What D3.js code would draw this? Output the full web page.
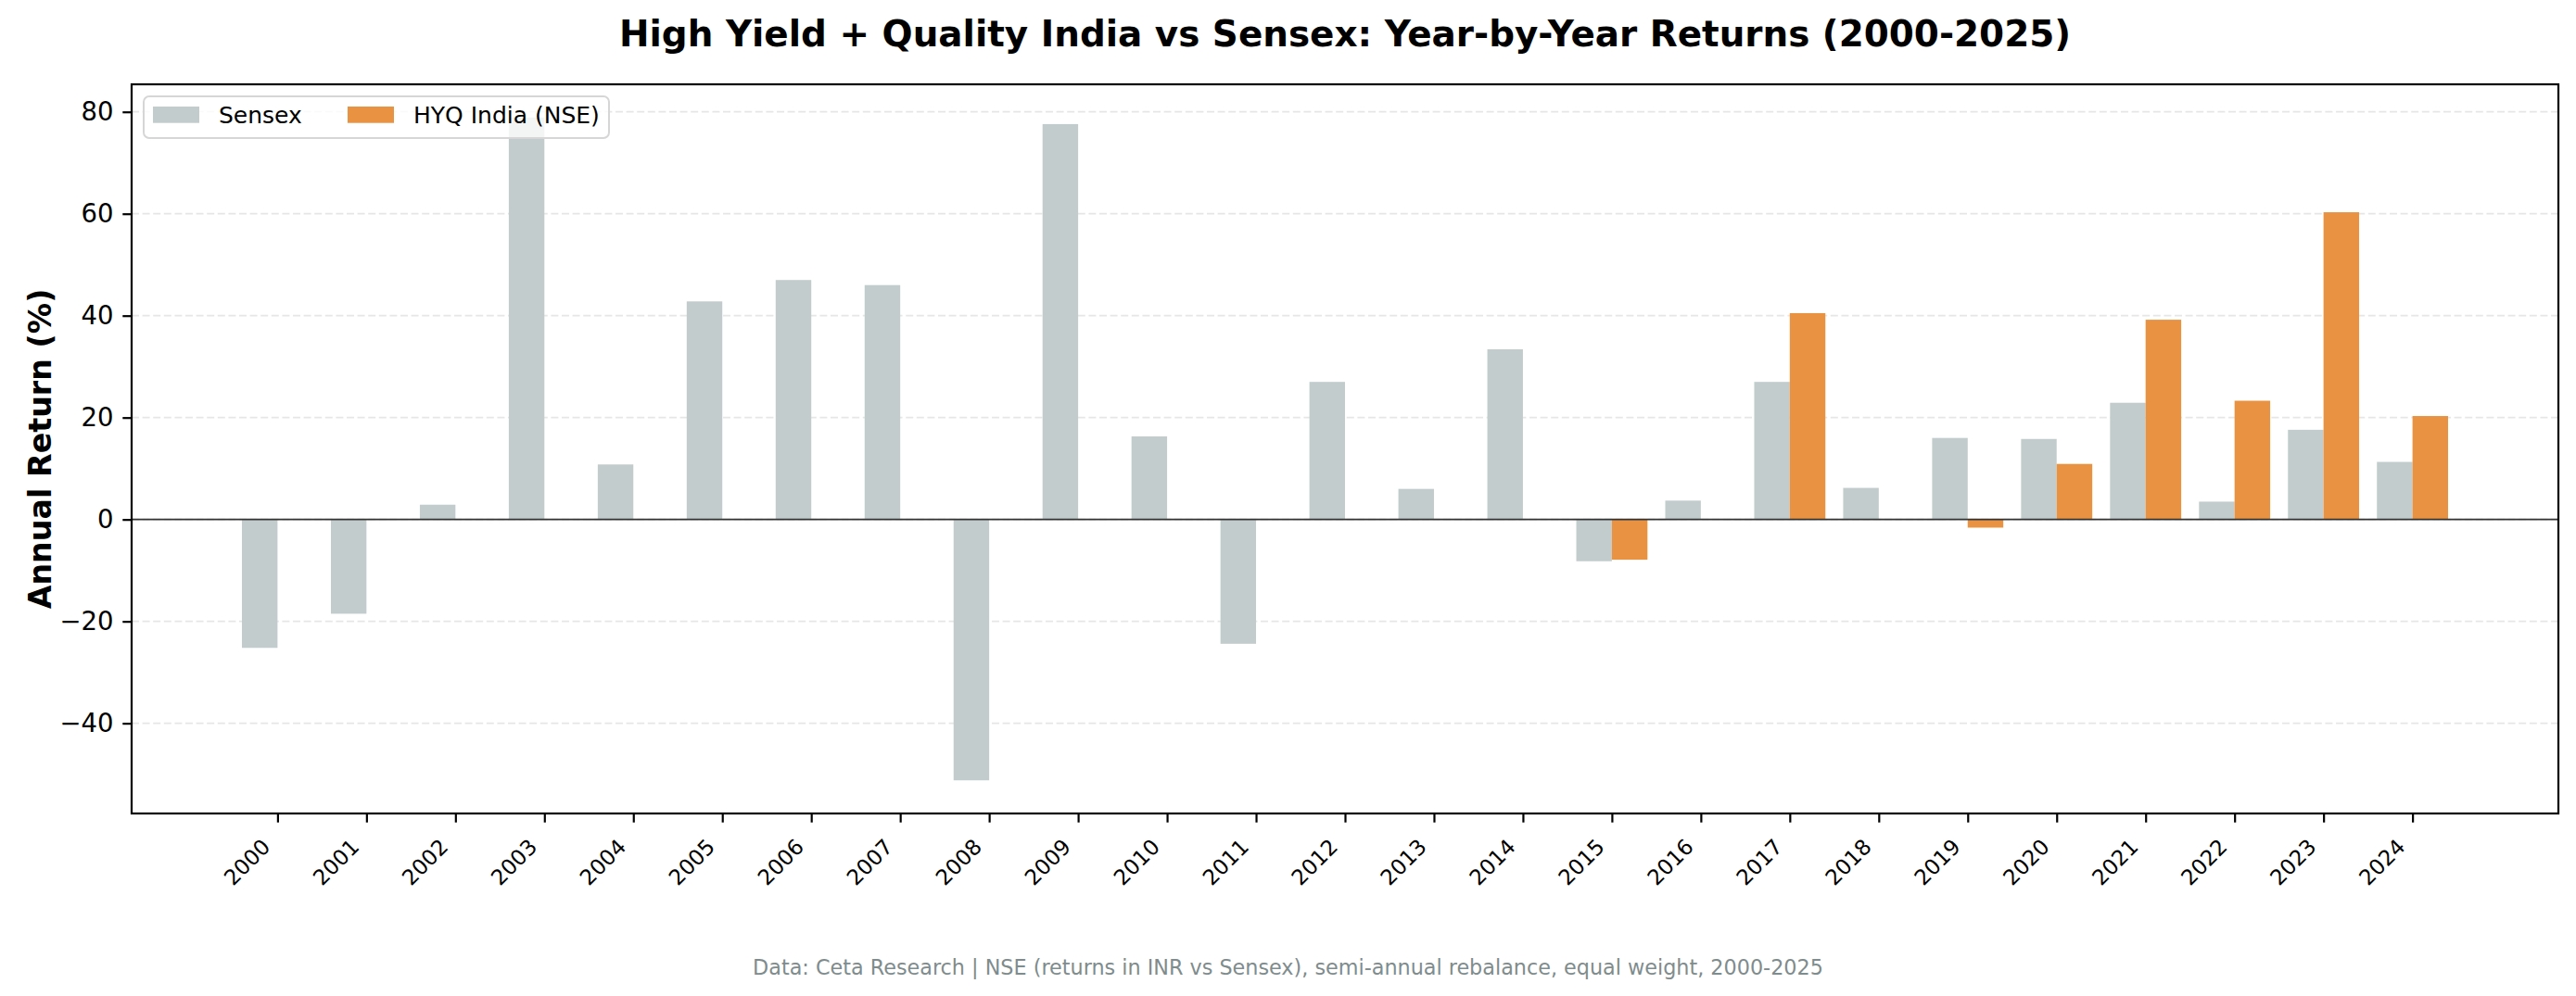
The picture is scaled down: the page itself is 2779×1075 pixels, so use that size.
<!DOCTYPE html>
<html>
<head>
<meta charset="utf-8">
<script src="https://cdn.jsdelivr.net/npm/d3@7"></script>
<style>
  body { margin: 0; background: #fff; }
  svg { display: block; }
  text { font-family: "DejaVu Sans", sans-serif; }
</style>
</head>
<body>
<div id="chart"></div>
<script>
// Year-by-year returns (%)
const years = ["2000", "2001", "2002", "2003", "2004", "2005", "2006", "2007", "2008", "2009",
  "2010", "2011", "2012", "2013", "2014", "2015", "2016", "2017", "2018", "2019",
  "2020", "2021", "2022", "2023", "2024"];
const sensex = [-25.2, -18.5, 2.9, 78.9, 10.8, 42.8, 47.0, 46.0, -51.2, 77.6,
  16.3, -24.4, 27.0, 6.0, 33.4, -8.2, 3.7, 27.0, 6.2, 16.0,
  15.8, 22.9, 3.5, 17.6, 11.3];
const hyq = [null, null, null, null, null, null, null, null, null, null,
  null, null, null, null, null, -7.9, null, 40.5, null, -1.6,
  10.9, 39.2, 23.3, 60.3, 20.3];
const yTicks = [-40, -20, 0, 20, 40, 60, 80];
const seriesNames = ["Sensex", "HYQ India (NSE)"];
const seriesColors = ["#c3cccc", "#e89242"];

const width = 2779, height = 1075;
const margin = { top: 91, right: 19, bottom: 197, left: 142 };
const innerW = width - margin.left - margin.right;
const innerH = height - margin.top - margin.bottom;

const svg = d3.select("#chart")
  .append("svg")
  .attr("width", width)
  .attr("height", height);

// matplotlib-style 5% margins around the data
const barW = 0.4;
const xLo = -barW, xHi = years.length - 1 + barW;
const xPad = (xHi - xLo) * 0.05;
const x = d3.scaleLinear()
  .domain([xLo - xPad, xHi + xPad])
  .range([margin.left, width - margin.right]);

const allVals = sensex.concat(hyq.filter(v => v != null), [0]);
const yMin = d3.min(allVals), yMax = d3.max(allVals);
const yPad = (yMax - yMin) * 0.05;
const y = d3.scaleLinear()
  .domain([yMin - yPad, yMax + yPad])
  .range([margin.top + innerH, margin.top]);

// grid
svg.append("g")
  .selectAll("line")
  .data(yTicks)
  .join("line")
  .attr("x1", margin.left)
  .attr("x2", width - margin.right)
  .attr("y1", d => y(d))
  .attr("y2", d => y(d))
  .attr("stroke", "#e6e6e6")
  .attr("stroke-width", 1.8)
  .attr("stroke-dasharray", "8,3.6");

// bars
const bars = svg.append("g");
bars.selectAll("rect.sensex")
  .data(sensex)
  .join("rect")
  .attr("class", "sensex")
  .attr("x", (d, i) => x(i - barW))
  .attr("width", (d, i) => x(i) - x(i - barW))
  .attr("y", d => y(Math.max(0, d)))
  .attr("height", d => Math.abs(y(d) - y(0)))
  .attr("fill", seriesColors[0]);

bars.selectAll("rect.hyq")
  .data(hyq.map((v, i) => ({ v, i })).filter(d => d.v != null))
  .join("rect")
  .attr("class", "hyq")
  .attr("x", d => x(d.i))
  .attr("width", d => x(d.i + barW) - x(d.i))
  .attr("y", d => y(Math.max(0, d.v)))
  .attr("height", d => Math.abs(y(d.v) - y(0)))
  .attr("fill", seriesColors[1]);

// zero line
svg.append("line")
  .attr("x1", margin.left)
  .attr("x2", width - margin.right)
  .attr("y1", y(0))
  .attr("y2", y(0))
  .attr("stroke", "#333")
  .attr("stroke-width", 1.8);

// axes
const xAxis = d3.axisBottom(x)
  .tickValues(d3.range(years.length))
  .tickFormat(i => years[i])
  .tickSize(9.7)
  .tickPadding(0);

const gx = svg.append("g")
  .attr("transform", `translate(0,${margin.top + innerH})`)
  .call(xAxis);
gx.select(".domain").remove();
gx.selectAll("line").attr("stroke", "#000").attr("stroke-width", 2.2);
gx.selectAll("text")
  .attr("x", null)
  .attr("y", null)
  .attr("dy", null)
  .attr("text-anchor", "end")
  .attr("transform", "translate(-7,37.5) rotate(-45)")
  .attr("fill", "#000")
  .style("font-size", "23px");

const yAxis = d3.axisLeft(y)
  .tickValues(yTicks)
  .tickSize(9.7)
  .tickPadding(9.7);

const gy = svg.append("g")
  .attr("transform", `translate(${margin.left},0)`)
  .call(yAxis);
gy.select(".domain").remove();
gy.selectAll("line").attr("stroke", "#000").attr("stroke-width", 2.2);
gy.selectAll("text")
  .attr("fill", "#000")
  .style("font-size", "27.5px");

// frame
svg.append("rect")
  .attr("x", margin.left)
  .attr("y", margin.top)
  .attr("width", innerW)
  .attr("height", innerH)
  .attr("fill", "none")
  .attr("stroke", "#000")
  .attr("stroke-width", 2.2);

// title + labels
svg.append("text")
  .attr("x", margin.left + innerW / 2)
  .attr("y", 50)
  .attr("text-anchor", "middle")
  .style("font-size", "38.9px")
  .style("font-weight", "bold")
  .text("High Yield + Quality India vs Sensex: Year-by-Year Returns (2000-2025)");

svg.append("text")
  .attr("transform", `translate(55,${margin.top + innerH / 2}) rotate(-90)`)
  .attr("text-anchor", "middle")
  .style("font-size", "33.3px")
  .style("font-weight", "bold")
  .text("Annual Return (%)");

svg.append("text")
  .attr("x", width / 2)
  .attr("y", 1052)
  .attr("text-anchor", "middle")
  .attr("fill", "#7f8c8d")
  .style("font-size", "22.3px")
  .text("Data: Ceta Research | NSE (returns in INR vs Sensex), semi-annual rebalance, equal weight, 2000-2025");

// legend
const legend = svg.append("g").attr("transform", "translate(155,104)");
legend.append("rect")
  .attr("width", 502)
  .attr("height", 45)
  .attr("rx", 6)
  .attr("fill", "#fff")
  .attr("fill-opacity", 0.8)
  .attr("stroke", "#d6d6d6")
  .attr("stroke-width", 2);

const items = legend.selectAll("g.item")
  .data(seriesNames)
  .join("g")
  .attr("class", "item")
  .attr("transform", (d, i) => `translate(${i === 0 ? 10 : 220},0)`);
items.append("rect")
  .attr("y", 11)
  .attr("width", 50)
  .attr("height", 17.7)
  .attr("fill", (d, i) => seriesColors[i]);
items.append("text")
  .attr("x", 71)
  .attr("y", 29)
  .style("font-size", "25px")
  .text(d => d);
</script>
</body>
</html>
